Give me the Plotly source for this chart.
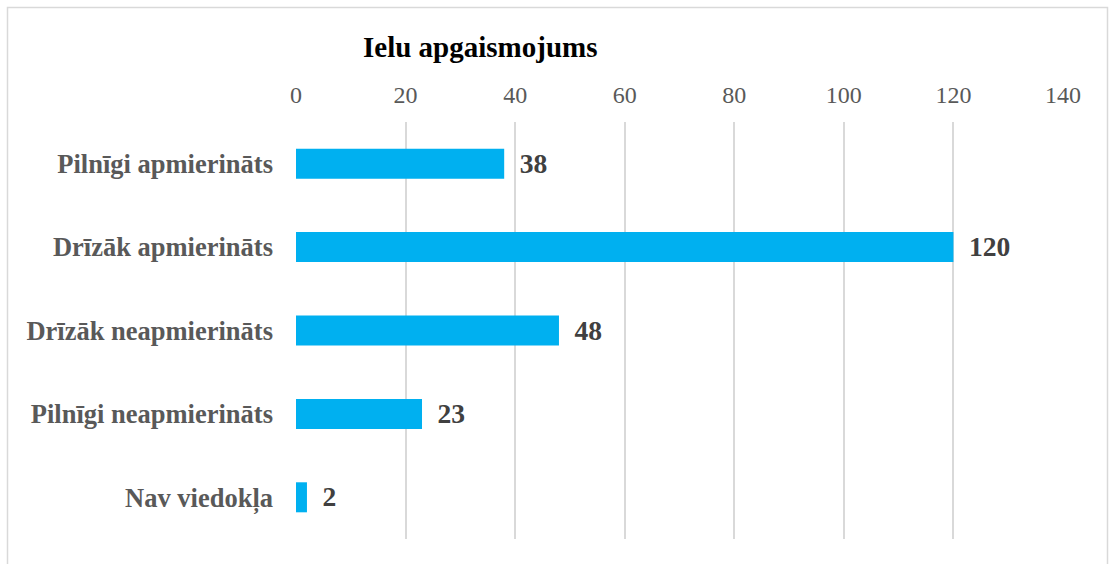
import plotly.graph_objects as go

categories = ["Pilnīgi apmierināts", "Drīzāk apmierināts", "Drīzāk neapmierināts",
              "Pilnīgi neapmierināts", "Nav viedokļa"]
values = [38, 120, 48, 23, 2]
tick_vals = [0, 20, 40, 60, 80, 100, 120, 140]

W, H = 1109, 564
ml, mr, mt, mb = 296, 46, 122, 25
pw, ph = W - ml - mr, H - mt - mb

def px_x(px):
    return (px - ml) / pw

def px_y(py):
    return (H - mb - py) / ph

font_family = "Liberation Serif, Times New Roman, serif"

fig = go.Figure(go.Bar(
    x=values, y=categories, orientation="h",
    marker=dict(color="#00B0F0", line=dict(width=0)),
    width=0.36,
    text=values, texttemplate=" \u2009<b>%{text}</b>", textposition="outside",
    textfont=dict(family=font_family, size=28.5, color="#404040"),
    cliponaxis=False,
))

fig.update_layout(
    width=W, height=H,
    margin=dict(l=ml, r=mr, t=mt, b=mb),
    plot_bgcolor="white", paper_bgcolor="white",
    showlegend=False,
    font=dict(family=font_family),
    xaxis=dict(side="top", range=[0, 140], tickvals=tick_vals,
               showgrid=True, gridcolor="#d9d9d9", gridwidth=1.5,
               zeroline=False, showline=False, ticks="",
               tickfont=dict(family=font_family, size=24, color="#595959"),
               ticklabelstandoff=13),
    yaxis=dict(autorange="reversed", showgrid=False, zeroline=False,
               showline=False, ticks="",
               tickvals=categories, ticktext=[f"<b>{c}</b>" for c in categories],
               tickfont=dict(family=font_family, size=26.5, color="#595959"),
               ticklabelstandoff=22),
    annotations=[dict(text="<b>Ielu apgaismojums</b>", xref="paper", yref="paper",
                      x=px_x(480), y=px_y(47), xanchor="center", yanchor="middle",
                      showarrow=False,
                      font=dict(family=font_family, size=29, color="black"))],
    shapes=[dict(type="rect", xref="paper", yref="paper",
                 x0=px_x(7.5), x1=px_x(1107.5), y0=px_y(575), y1=px_y(7.5),
                 line=dict(color="#d9d9d9", width=1.5), layer="below")],
)

fig.write_html("out.html", config={"displayModeBar": False},
               post_script="document.body.style.margin='0';")
